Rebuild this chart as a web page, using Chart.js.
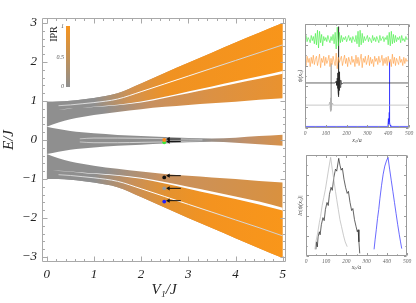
<!DOCTYPE html>
<html><head><meta charset="utf-8">
<script src="https://cdn.jsdelivr.net/npm/chart.js@4.4.1/dist/chart.umd.min.js"></script>
<style>
html,body{margin:0;padding:0;background:#fff;}
#wrap{position:relative;width:416px;height:303px;overflow:hidden;background:#fff;}
canvas{position:absolute;}
.lbl{position:absolute;font-family:'Liberation Serif','Times New Roman',serif;white-space:nowrap;line-height:1;}
</style></head><body>
<div id="wrap">
<canvas id="main" width="292" height="303" style="left:0;top:0"></canvas>
<canvas id="ins1" width="124" height="150" style="left:292px;top:0"></canvas>
<canvas id="ins2" width="124" height="125" style="left:292px;top:150px"></canvas>
<div style="position:absolute;left:66px;top:26px;width:4px;height:61px;background:linear-gradient(to top,#8f8f8f,#f7941d);"></div>
<span class="lbl" style="left:64px;top:26px;font-size:6px;font-style:italic;color:#555;transform:translate(-100%,-50%)">1</span>
<span class="lbl" style="left:64px;top:57px;font-size:6px;font-style:italic;color:#555;transform:translate(-100%,-50%)">0.5</span>
<span class="lbl" style="left:64px;top:86px;font-size:6px;font-style:italic;color:#555;transform:translate(-100%,-50%)">0</span>
<span class="lbl" style="left:54px;top:33.5px;font-size:10px;color:#222;transform:translate(-50%,-50%) rotate(-90deg)">IPR</span>
</div>
<script>
// ---------- main spectrum data (E/J edges vs V1/J) ----------
const vGrid       = [0, 0.25, 0.5, 0.75, 1, 1.5, 2, 2.5, 3, 3.5, 4, 4.5, 5];
const upperTop    = [0.98, 0.99, 1.01, 1.04, 1.08, 1.20, 1.45, 1.72, 1.98, 2.24, 2.50, 2.75, 3.00];
const gapAHi      = [0.78, 0.785, 0.805, 0.83, 0.855, 0.905, 0.985, 1.11, 1.245, 1.375, 1.505, 1.635, 1.77];
const gapALo      = [0.78, 0.78, 0.80, 0.825, 0.845, 0.89, 0.96, 1.08, 1.20, 1.32, 1.45, 1.57, 1.70];
const upperBottom = [0.34, 0.45, 0.53, 0.59, 0.64, 0.72, 0.79, 0.85, 0.90, 0.94, 0.98, 1.03, 1.07];
const midTop      = [0.34, 0.28, 0.23, 0.20, 0.17, 0.13, 0.10, 0.075, 0.05, 0.04, 0.06, 0.10, 0.135];
const midBottom   = [-0.36, -0.30, -0.25, -0.22, -0.19, -0.15, -0.12, -0.09, -0.06, -0.045, -0.07, -0.11, -0.15];
const lowerTop    = [-0.36, -0.47, -0.55, -0.61, -0.66, -0.74, -0.81, -0.87, -0.92, -0.96, -1.00, -1.05, -1.09];
const gapBHi      = [-0.79, -0.79, -0.81, -0.835, -0.855, -0.90, -0.97, -1.08, -1.20, -1.32, -1.45, -1.58, -1.74];
const gapBLo      = [-0.79, -0.795, -0.815, -0.845, -0.865, -0.915, -0.995, -1.115, -1.25, -1.385, -1.515, -1.655, -1.81];
const lowerBottom = [-1.00, -1.00, -1.02, -1.05, -1.09, -1.21, -1.46, -1.73, -2.00, -2.26, -2.52, -2.78, -3.03];
const thinGrid    = [0.25, 0.5, 0.75, 1, 1.5, 2, 2.5, 3, 3.5, 4, 4.5, 5];
const thinUpper   = [0.88, 0.90, 0.93, 0.96, 1.05, 1.24, 1.44, 1.64, 1.84, 2.04, 2.24, 2.44];
const thinLower   = [-0.89, -0.91, -0.94, -0.97, -1.06, -1.25, -1.45, -1.65, -1.85, -2.05, -2.25, -2.46];
const midLineGrid = [0.7, 1, 1.5, 2, 2.5, 3, 3.3];
const midLine1    = [0.03, 0.05, 0.05, 0.045, 0.035, 0.02, 0.012];
const midLine2    = [-0.05, -0.07, -0.07, -0.06, -0.05, -0.03, -0.02];
const markerV     = 2.49;
const markerE     = [0.0, -0.06, -0.96, -1.24, -1.58];
const arrowV      = [2.58, 2.84];
const arrowE      = [0.026, -0.04, -0.915, -1.24, -1.556];

// ---------- inset 1: psi(x_n) ----------
const noiseStep = 5;
const greenPsi  = [8.6,8.9,8.3,8.7,8.5,8.2,8.9,8.4,8.8,8.1, 9.1,8.0,9.4,7.7,9.3,8.2,9.0,7.9,8.8,8.4,
                   8.7,8.3,8.9,8.5,8.2,8.8,8.4,9.0,8.1,9.2, 7.6,9.7,7.9,9.2,8.2,8.9,8.3,8.7,8.5,8.8,
                   8.3,8.6,8.9,8.4,8.7,8.2,8.8,8.5,8.3,8.9, 8.1,9.3,7.8,9.4,8.0,9.1,8.2,8.8,8.4,8.6,
                   8.9,8.3,8.7,8.5,8.2,8.9,8.4,8.7,8.3,8.8, 8.5,8.2,8.9,8.4,8.6,8.8,8.3,8.7,8.5,8.9,
                   8.0,9.2,7.9,9.3,8.1,9.0,8.2,8.9,8.3,8.7, 8.5,8.8,8.2,8.9,8.4,8.6,8.3,8.8,8.5,8.6,8.4];
const orangePsi = [6.5,6.0,6.9,6.3,6.7,5.9,6.8,6.2,7.0,6.1, 6.6,6.9,6.0,6.5,7.1,5.8,6.7,6.3,6.9,6.0,
                   6.8,6.2,6.5,7.0,5.9,6.7,6.1,6.9,6.4,6.0, 7.2,5.7,6.8,6.3,6.6,6.9,6.0,6.5,7.0,6.2,
                   6.7,5.9,6.8,6.4,6.1,6.9,6.3,6.6,5.9,7.0, 6.2,6.8,6.0,6.6,7.1,5.8,6.7,6.3,6.9,6.1,
                   6.5,7.0,6.0,6.8,6.2,6.6,5.9,6.9,6.4,6.7, 6.1,6.9,6.3,6.5,7.0,6.0,6.7,6.2,6.8,6.0,
                   6.9,6.3,6.6,5.9,7.1,6.2,6.8,6.0,6.7,6.4, 6.1,6.9,6.3,6.6,6.0,6.8,6.2,6.7,6.4,6.5,6.3];
const blackPsiX = [0,145,150,153,155,157,158,159,160,161,162,163,164,165,167,169,172,176,182,500];
const blackPsiY = [4.33,4.33,4.5,4.1,4.8,3.8,5.3,3.5,6.0,3.0,9.75,3.2,5.4,3.6,5.0,3.9,4.6,4.2,4.33,4.33];
const grayPsiX  = [0,115,119,121,123,124,125,126,127,129,132,136,500];
const grayPsiY  = [2.2,2.2,2.5,1.9,2.9,1.6,6.2,1.7,2.8,2.0,2.4,2.2,2.2];
const bluePsiX  = [0,398,401,403,405,406,407,409,412,500];
const bluePsiY  = [0.15,0.15,0.9,0.35,1.5,6.4,0.6,0.3,0.15,0.15];

// ---------- inset 2: ln|psi(x_n)| ----------
const grayLnX  = [44,50,58,66,72,80,88,96,104,112,122,130,138,146,152,160,168,176,186,194,204];
const grayLnY  = [0.66,1.5,2.3,3.3,3.9,5.0,5.8,6.6,7.6,8.6,9.77,8.6,7.5,6.4,5.6,4.6,3.6,2.9,2.0,1.4,0.92];
const blackLnX = [49,52,56,60,66,70,76,84,90,96,104,110,116,124,130,138,146,152,162,168,174,180,188,196,204,210,218,226,232,240,248,254,258,262,266];
const blackLnY = [0.66,1.4,0.9,1.9,2.4,2.1,3.1,3.8,3.5,4.6,5.3,5.0,6.1,6.8,6.5,7.8,8.6,8.4,9.67,9.0,8.5,8.7,7.6,6.8,6.2,6.4,5.3,4.5,4.7,3.6,2.9,2.4,2.6,1.4,0.26];
const blueLnX  = [337,342,348,354,360,366,374,382,390,398,406,414,422,430,438,446,454,462,468,474];
const blueLnY  = [0.66,1.6,2.6,3.7,4.6,5.7,7.0,8.1,8.9,9.4,9.77,8.6,7.5,6.4,5.3,4.2,3.1,2.1,1.4,0.73];

// ---------- helpers ----------
const SERIF = "'Liberation Serif','Times New Roman',serif";
const GRAY = '#8f8f8f';
const pts = (xs, ys) => xs.map((x, i) => ({x, y: ys[i]}));

function hGrad(stops) {
  return (c) => {
    const ch = c.chart;
    if (!ch.chartArea || !ch.scales.x) return stops[0][1];
    const sx = ch.scales.x;
    const g = ch.ctx.createLinearGradient(sx.getPixelForValue(0), 0, sx.getPixelForValue(5), 0);
    stops.forEach(([v, col]) => g.addColorStop(v / 5, col));
    return g;
  };
}
function edge(data, order, fill, bg) {
  return {data, order, fill: fill === undefined ? false : fill, backgroundColor: bg || 'transparent',
    borderWidth: 0, borderColor: 'transparent', pointRadius: 0, cubicInterpolationMode: 'monotone'};
}

const band1Col = hGrad([[0, GRAY], [1.0, GRAY], [1.8, '#d3924f'], [2.6, '#f09222'], [5, '#f8951a']]);
const band2Col = hGrad([[0, GRAY], [1.2, GRAY], [2.2, '#c79060'], [3.5, '#dc9143'], [5, '#e9922f']]);
const midCol   = hGrad([[0, GRAY], [3.3, GRAY], [4.2, '#c0906a'], [5, '#d6914a']]);
const band4Col = hGrad([[0, GRAY], [1.2, GRAY], [2.4, '#c89160'], [5, '#d9913f']]);
const band5Col = hGrad([[0, GRAY], [1.0, GRAY], [1.8, '#c8905a'], [2.6, '#e5922e'], [3.5, '#f4931f'], [5, '#f9961a']]);
const thinCol  = hGrad([[0, '#c4c4c4'], [1.2, '#e8e8e8'], [2.0, '#ffffff'], [2.8, '#ffffff'], [3.8, '#d8d8d8'], [5, '#cfcfcf']]);
const midLineCol = hGrad([[0, '#b8b8b8'], [1.0, '#e6e6e6'], [2.0, '#f4f4f4'], [3.3, '#c0c0c0'], [5, '#c0c0c0']]);

const framePlugin = {
  id: 'frame',
  afterDatasetsDraw(chart, args, o) {
    if (!o || !o.on) return;
    const {ctx, chartArea: a} = chart;
    const xs = chart.scales.x, ys = chart.scales.y;
    ctx.save();
    ctx.strokeStyle = o.color; ctx.lineWidth = 1;
    const L = Math.round(a.left) + 0.5, R = Math.round(a.right) - 0.5, T = Math.round(a.top) + 0.5, B = Math.round(a.bottom) - 0.5;
    ctx.beginPath();
    ctx.rect(L, T, R - L, B - T);
    const addX = (v, len) => { const p = Math.round(xs.getPixelForValue(v)) + 0.5; ctx.moveTo(p, B); ctx.lineTo(p, B - len); ctx.moveTo(p, T); ctx.lineTo(p, T + len); };
    const addY = (v, len) => { const p = Math.round(ys.getPixelForValue(v)) + 0.5; ctx.moveTo(L, p); ctx.lineTo(L + len, p); ctx.moveTo(R, p); ctx.lineTo(R - len, p); };
    const majX = xs.ticks.map(t => t.value), majY = ys.ticks.map(t => t.value);
    majX.forEach(v => addX(v, o.major)); majY.forEach(v => addY(v, o.major));
    const minors = (s, step, maj, fn) => {
      if (!step) return;
      for (let k = Math.ceil(s.min / step); k * step <= s.max + 1e-9; k++) {
        const v = k * step;
        if (!maj.some(m => Math.abs(m - v) < 1e-6)) fn(v, o.minor);
      }
    };
    minors(xs, o.xMinor, majX, addX); minors(ys, o.yMinor, majY, addY);
    ctx.stroke(); ctx.restore();
  }
};
Chart.register(framePlugin);

const base = {
  responsive: false, animation: false, devicePixelRatio: 1,
  plugins: {legend: {display: false}, tooltip: {enabled: false}},
  elements: {point: {radius: 0}}
};

// ---------- main chart ----------
const ds = [];
ds.push(edge(pts(vGrid, upperTop), 50));                          // 0
ds.push(edge(pts(vGrid, upperBottom), 45, 0, band2Col));          // 1
ds.push(edge(pts(vGrid, gapAHi), 30, 0, band1Col));               // 2
ds.push(edge(pts(vGrid, gapALo), 20, 2, '#ffffff'));              // 3
ds.push(edge(pts(vGrid, midTop), 50));                            // 4
ds.push(edge(pts(vGrid, midBottom), 45, 4, midCol));              // 5
ds.push(edge(pts(vGrid, lowerTop), 50));                          // 6
ds.push(edge(pts(vGrid, lowerBottom), 45, 6, band4Col));          // 7
ds.push(edge(pts(vGrid, gapBLo), 30, 7, band5Col));               // 8
ds.push(edge(pts(vGrid, gapBHi), 20, 8, '#ffffff'));              // 9
ds.push({data: pts(thinGrid, thinUpper), order: 10, borderColor: thinCol, borderWidth: 1, pointRadius: 0, cubicInterpolationMode: 'monotone'});
ds.push({data: pts(thinGrid, thinLower), order: 10, borderColor: thinCol, borderWidth: 1, pointRadius: 0, cubicInterpolationMode: 'monotone'});
ds.push({data: pts(midLineGrid, midLine1), order: 10, borderColor: midLineCol, borderWidth: 0.7, pointRadius: 0, cubicInterpolationMode: 'monotone'});
ds.push({data: pts(midLineGrid, midLine2), order: 10, borderColor: midLineCol, borderWidth: 0.7, pointRadius: 0, cubicInterpolationMode: 'monotone'});
arrowE.forEach(e => ds.push({data: arrowV.map(v => ({x: v, y: e})), order: 1, borderColor: '#111', borderWidth: 1,
  pointRadius: [2.4, 0], pointStyle: 'triangle', pointRotation: -90, pointBackgroundColor: '#111', pointBorderWidth: 0}));
const markerColors = ['#ff8c1a', '#3ae83a', '#111111', '#9a9a9a', '#2020ff'];
markerE.forEach((e, i) => ds.push({data: [{x: markerV, y: e}], order: 0, showLine: false, pointRadius: 1.9,
  pointBackgroundColor: markerColors[i], pointBorderWidth: 0}));

const tickFont = {family: SERIF, style: 'italic', size: 13};
new Chart(document.getElementById('main'), {
  type: 'line',
  data: {datasets: ds},
  options: Object.assign({}, base, {
    layout: {padding: {top: 18, right: 6, left: 0, bottom: 0}},
    plugins: Object.assign({}, base.plugins, {frame: {on: true, color: '#a9a9a9', major: 5, minor: 2.5, xMinor: 0.2, yMinor: 0.2}}),
    scales: {
      x: {type: 'linear', min: -0.1, max: 5.07, afterFit: s => { s.height = 41; },
        grid: {display: false, drawTicks: false}, border: {display: false},
        ticks: {stepSize: 1, includeBounds: false, font: tickFont, color: '#222', padding: 5, maxRotation: 0, autoSkip: false},
        title: {display: true, text: 'V₁/J', font: {family: SERIF, style: 'italic', size: 15}, color: '#222', padding: {top: 0, bottom: 4}}},
      y: {type: 'linear', min: -3.13, max: 3.13, afterFit: s => { s.width = 42; },
        grid: {display: false, drawTicks: false}, border: {display: false},
        ticks: {stepSize: 1, includeBounds: false, font: tickFont, color: '#222', padding: 5, autoSkip: false,
          callback: v => (v < 0 ? '−' + Math.abs(v) : String(v))},
        title: {display: true, text: 'E/J', font: {family: SERIF, style: 'italic', size: 15}, color: '#222', padding: {top: 0, bottom: 0}}}
    }
  })
});

// ---------- insets ----------
const smallTick = {family: SERIF, style: 'italic', size: 5.5};
const smallTitle = {family: SERIF, style: 'italic', size: 6};
function insetScales(xH, yW, yTitle, xTitlePad) {
  return {
    x: {type: 'linear', min: 0, max: 500, afterFit: s => { s.height = xH; },
      grid: {display: false, drawTicks: false}, border: {display: false},
      ticks: {stepSize: 100, includeBounds: false, font: smallTick, color: '#666', padding: 2, maxRotation: 0, autoSkip: false},
      title: {display: true, text: 'xₙ/a', font: smallTitle, color: '#444', padding: {top: 0, bottom: xTitlePad}}},
    y: {type: 'linear', min: 0, max: 10, afterFit: s => { s.width = yW; },
      grid: {display: false, drawTicks: false}, border: {display: false},
      ticks: {display: false, stepSize: 2},
      title: {display: true, text: yTitle, font: smallTitle, color: '#444', padding: {top: 5, bottom: 0}}}
  };
}
const trace = (data, col, w) => ({data, borderColor: col, borderWidth: w || 0.7, pointRadius: 0, tension: 0});

new Chart(document.getElementById('ins1'), {
  type: 'line',
  data: {datasets: [
    trace(greenPsi.map((v, i) => ({x: i * noiseStep, y: v})), '#3ded3d', 0.6),
    trace(orangePsi.map((v, i) => ({x: i * noiseStep, y: v})), '#ff9a3c', 0.6),
    trace(pts(blackPsiX, blackPsiY), '#222222'),
    trace(pts(grayPsiX, grayPsiY), '#b0b0b0'),
    trace(pts(bluePsiX, bluePsiY), '#2a2aff')
  ]},
  options: Object.assign({}, base, {
    layout: {padding: {top: 24, right: 7, left: 0, bottom: 0}},
    plugins: Object.assign({}, base.plugins, {frame: {on: true, color: '#9a9a9a', major: 2.5, minor: 1.2, xMinor: 50, yMinor: 1}}),
    scales: insetScales(22, 13, 'ψ(xₙ)', 6)
  })
});

new Chart(document.getElementById('ins2'), {
  type: 'line',
  data: {datasets: [
    trace(pts(grayLnX, grayLnY), '#b5b5b5'),
    trace(pts(blackLnX, blackLnY), '#222222'),
    trace(pts(blueLnX, blueLnY), '#2a2aff')
  ]},
  options: Object.assign({}, base, {
    layout: {padding: {top: 5, right: 9, left: 0, bottom: 0}},
    plugins: Object.assign({}, base.plugins, {frame: {on: true, color: '#9a9a9a', major: 2.5, minor: 1.2, xMinor: 50, yMinor: 1}}),
    scales: insetScales(19, 14, 'ln|ψ(xₙ)|', 4)
  })
});
</script>
</body></html>
